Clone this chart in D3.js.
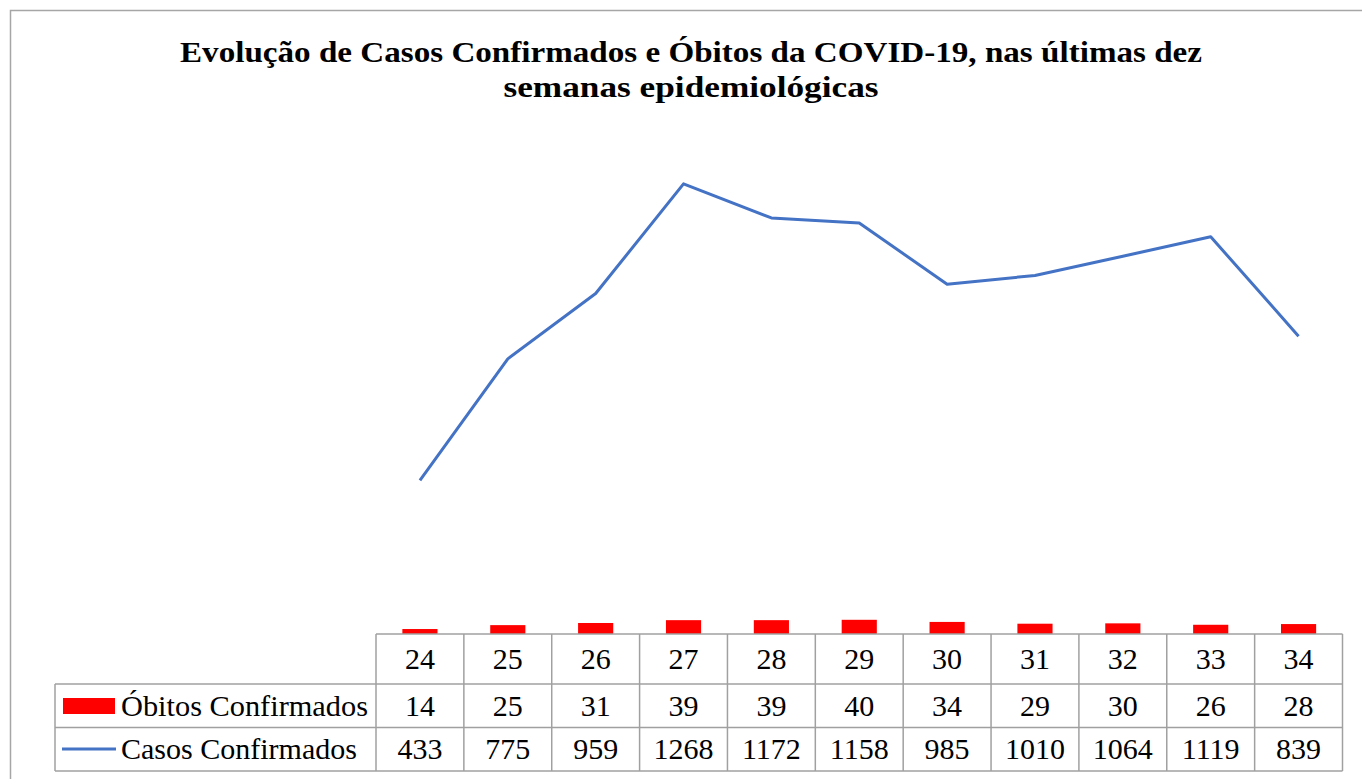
<!DOCTYPE html>
<html lang="pt">
<head>
  <meta charset="UTF-8">
  <title>COVID-19</title>
  <script src="https://d3js.org/d3.v7.min.js"></script>
  <style>
    body { margin: 0; background: #fff; }
    svg { display: block; }
  </style>
</head>
<body>
<svg width="1362" height="779"></svg>
<script>
  // dados
  const semanas = ["24", "25", "26", "27", "28", "29", "30", "31", "32", "33", "34"]
  const obitos = [14, 25, 31, 39, 39, 40, 34, 29, 30, 26, 28]
  const casos = [433, 775, 959, 1268, 1172, 1158, 985, 1010, 1064, 1119, 839]
  const titulo = ["Evolução de Casos Confirmados e Óbitos da COVID-19, nas últimas dez",
    "semanas epidemiológicas"]
  const tituloLarg = [1022, 375]

  const svg = d3.select("svg")
  const font = "'Liberation Serif', 'DejaVu Serif', serif"

  // moldura do gráfico
  svg.append("rect")
    .attr("x", 10.5).attr("y", 10.5)
    .attr("width", 1400).attr("height", 800)
    .attr("fill", "none").attr("stroke", "#a6a6a6").attr("stroke-width", 1.5)

  svg.selectAll(".titulo")
    .data(titulo)
    .join("text")
    .attr("x", 691)
    .attr("y", (d, i) => 62 + i * 35)
    .attr("text-anchor", "middle")
    .attr("font-family", font)
    .attr("font-weight", "bold")
    .attr("font-size", 30)
    .attr("textLength", (d, i) => tituloLarg[i])
    .attr("lengthAdjust", "spacingAndGlyphs")
    .text(d => d)

  const x = d3.scaleBand().domain(semanas).range([376, 1342.5])
  const y = d3.scaleLinear().domain([0, 1400]).range([634, 137])

  // barras de óbitos
  svg.append("g")
    .selectAll("rect")
    .data(obitos)
    .join("rect")
    .attr("x", (d, i) => x(semanas[i]) + x.bandwidth() * 0.3)
    .attr("width", x.bandwidth() * 0.4)
    .attr("y", d => y(d))
    .attr("height", d => y(0) - y(d))
    .attr("fill", "#ff0000")

  // linha de casos
  const line = d3.line()
    .x((d, i) => x(semanas[i]) + x.bandwidth() / 2)
    .y(d => y(d))

  svg.append("path")
    .datum(casos)
    .attr("d", line)
    .attr("fill", "none")
    .attr("stroke", "#4472c4")
    .attr("stroke-width", 3)
    .attr("stroke-linejoin", "round")

  // tabela de dados
  const rows = [634, 684, 727.5, 771]
  const tabela = svg.append("g").attr("stroke", "#a0a0a0").attr("stroke-width", 1.5)
  tabela.append("line").attr("x1", 376).attr("x2", 1342.5).attr("y1", rows[0]).attr("y2", rows[0])
  rows.slice(1).forEach(r => {
    tabela.append("line").attr("x1", 55).attr("x2", 1342.5).attr("y1", r).attr("y2", r)
  })
  tabela.append("line").attr("x1", 55).attr("x2", 55).attr("y1", rows[1]).attr("y2", rows[3])
  semanas.concat(["fim"]).forEach((s, i) => {
    const xx = 376 + i * x.bandwidth()
    tabela.append("line").attr("x1", xx).attr("x2", xx).attr("y1", rows[0]).attr("y2", rows[3])
  })

  const linhas = [semanas, obitos, casos]
  linhas.forEach((vals, r) => {
    svg.append("g")
      .selectAll("text")
      .data(vals)
      .join("text")
      .attr("x", (d, i) => x(semanas[i]) + x.bandwidth() / 2)
      .attr("y", (rows[r] + rows[r + 1]) / 2 + 10)
      .attr("text-anchor", "middle")
      .attr("font-family", font)
      .attr("font-size", 30)
      .text(d => d)
  })

  // legenda
  svg.append("rect").attr("x", 63).attr("y", 698).attr("width", 52).attr("height", 16).attr("fill", "#ff0000")
  svg.append("line").attr("x1", 62).attr("x2", 116).attr("y1", 749).attr("y2", 749)
    .attr("stroke", "#4472c4").attr("stroke-width", 3)
  svg.selectAll(".leg")
    .data(["Óbitos Confirmados", "Casos Confirmados"])
    .join("text")
    .attr("x", 121)
    .attr("y", (d, i) => (rows[i + 1] + rows[i + 2]) / 2 + 10)
    .attr("font-family", font)
    .attr("font-size", 30)
    .attr("textLength", (d, i) => [247, 236][i])
    .attr("lengthAdjust", "spacingAndGlyphs")
    .text(d => d)
</script>
</body>
</html>
